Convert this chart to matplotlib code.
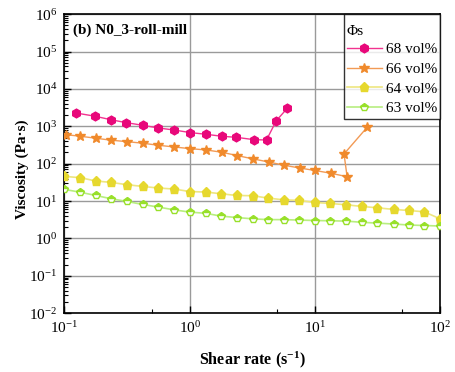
import matplotlib
matplotlib.use("Agg")
import matplotlib.pyplot as plt
from matplotlib.ticker import LogLocator, NullFormatter

plt.rcParams["font.family"] = ["Liberation Serif", "DejaVu Serif"]
plt.rcParams["mathtext.fontset"] = "custom"
plt.rcParams["mathtext.rm"] = "Liberation Serif"
plt.rcParams["mathtext.bf"] = "Liberation Serif:bold"
plt.rcParams["mathtext.it"] = "Liberation Serif:italic"

# ── data ─────────────────────────────────────────────────────────────────────
x68 = [0.123, 0.176, 0.234, 0.312, 0.423, 0.562, 0.751, 1.0, 1.35, 1.82,
       2.36, 3.28, 4.11, 4.92, 6.03]
y68 = [2275, 1855, 1503, 1249, 1063, 900, 796, 682, 611, 540,
       507, 438, 430, 1413, 3041]

x66 = [0.102, 0.133, 0.178, 0.236, 0.316, 0.423, 0.562, 0.751, 1.0, 1.35,
       1.81, 2.41, 3.22, 4.27, 5.70, 7.56, 10.0, 13.5, 18.1, 17.1, 26.2]
y66 = [599, 543, 480, 424, 389, 352, 311, 280, 253, 233,
       202, 164, 134, 111, 90.6, 76.7, 65.8, 55.3, 44.8, 182, 946]

x64 = [0.100, 0.134, 0.178, 0.237, 0.316, 0.422, 0.563, 0.748, 1.0, 1.34,
       1.78, 2.37, 3.18, 4.23, 5.63, 7.5, 10.0, 13.3, 17.8, 23.8,
       31.6, 42.8, 56.2, 74.8, 100]
y64 = [45.7, 42.2, 34.4, 31.5, 27.4, 24.6, 22.3, 21.0, 18.0, 17.4,
       15.7, 14.1, 13.9, 12.0, 10.8, 10.4, 9.17, 8.62, 7.96, 7.16,
       6.61, 5.96, 5.60, 5.16, 3.35]

x63 = x64
y63 = [20.5, 17.2, 14.1, 11.5, 9.76, 8.11, 6.90, 5.84, 5.07, 4.71,
       3.96, 3.63, 3.35, 3.19, 3.19, 3.10, 3.02, 2.97, 2.91, 2.70,
       2.57, 2.43, 2.29, 2.22, 2.15]

labels = ["68 vol%", "66 vol%", "64 vol%", "63 vol%"]

# ── plotting ─────────────────────────────────────────────────────────────────
fig = plt.figure(figsize=(4.56, 3.72), dpi=100)
ax = fig.add_axes([0.1414, 0.158, 0.8236, 0.804])

ax.plot(x68, y68, color="#F2338F", marker="h", markersize=6.3,
        markerfacecolor="#E8087A", markeredgecolor="#E8087A",
        linewidth=1, label=labels[0], zorder=4)
ax.plot(x66, y66, color="#F29A55", marker="*", markersize=7.5,
        markerfacecolor="#F08A2C", markeredgecolor="#F08A2C",
        linewidth=1, label=labels[1], zorder=3)
ax.plot(x64, y64, color="#EEE680", marker="p", markersize=6.5,
        markerfacecolor="#E6D82E", markeredgecolor="#E6D82E",
        linewidth=1.2, label=labels[2], zorder=3)
ax.plot(x63, y63, color="#B8EE80", marker="p", markersize=6,
        fillstyle="top", markerfacecolor="#98E02A",
        markerfacecoloralt="white", markeredgecolor="#98E02A",
        markeredgewidth=1, linewidth=1.2, label=labels[3], zorder=3)

ax.set_xscale("log")
ax.set_yscale("log")
ax.set_xlim(0.1, 100)
ax.set_ylim(1e-2, 1e6)

ax.xaxis.set_major_locator(LogLocator(base=10, numticks=10))
ax.xaxis.set_minor_locator(LogLocator(base=10, subs=[5], numticks=10))
ax.xaxis.set_minor_formatter(NullFormatter())
ax.yaxis.set_major_locator(LogLocator(base=10, numticks=20))
ax.yaxis.set_minor_locator(LogLocator(base=10, subs=range(2, 10), numticks=20))
ax.yaxis.set_minor_formatter(NullFormatter())

ax.tick_params(which="both", direction="in", top=False, right=False,
               labelsize=11, pad=5)
ax.tick_params(which="major", length=5, width=1)
ax.tick_params(which="minor", length=3, width=0.8)

ax.grid(True, which="major", color="#9a9a9a", linewidth=1)
ax.set_axisbelow(True)
for s in ax.spines.values():
    s.set_linewidth(1.2)

ax.set_xlabel(r"Shear rate (s$^{\mathbf{-1}}$)", fontsize=11.6,
              fontweight="bold", labelpad=10)
ax.set_ylabel("Viscosity (Pa·s)", fontsize=11, fontweight="bold")
ax.yaxis.set_label_coords(-0.094, 0.48)

ax.text(0.024, 0.946, "(b) N0_3-roll-mill", transform=ax.transAxes,
        fontsize=11, fontweight="bold", ha="left", va="center")

leg = ax.legend(title="\nΦs", loc="upper right", fontsize=11,
                title_fontsize=11, frameon=True, fancybox=False,
                borderaxespad=0, handlelength=2.3, handletextpad=0.25,
                labelspacing=0.4, borderpad=0.2)
leg.get_title().set_linespacing(0.5)
leg._legend_box.align = "left"
leg._legend_box.sep = 3
leg.get_frame().set_edgecolor("black")
leg.get_frame().set_linewidth(1)

fig.savefig("out.png", dpi=100)
